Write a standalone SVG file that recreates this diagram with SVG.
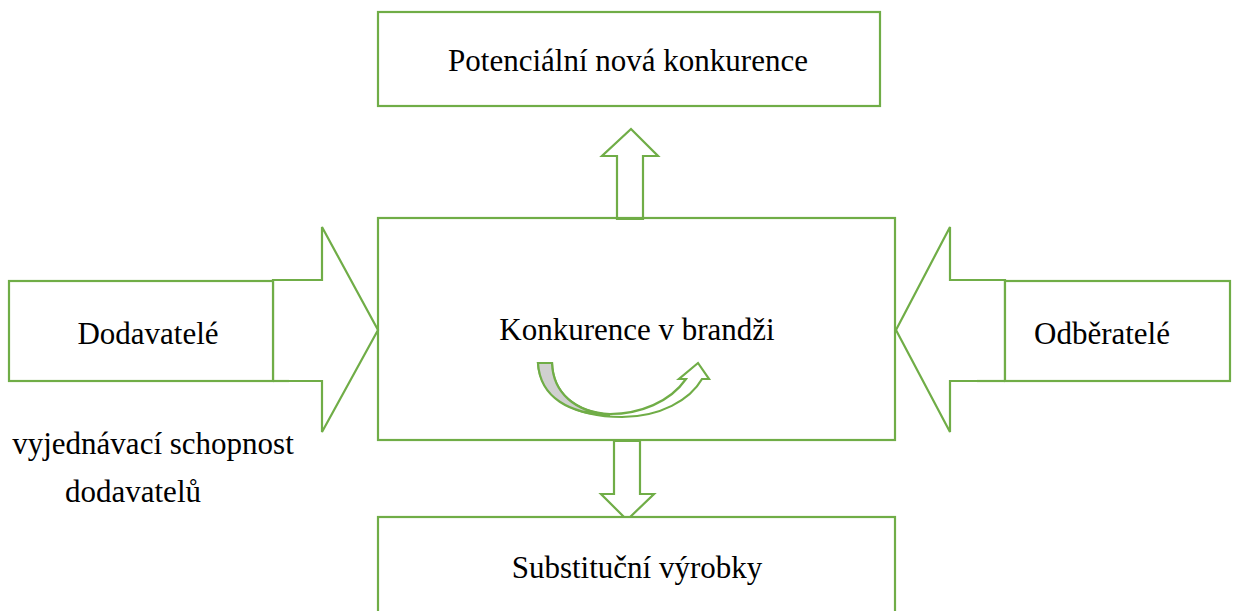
<svg xmlns="http://www.w3.org/2000/svg" width="1235" height="611" viewBox="0 0 1235 611">
<style>
.b{fill:#fff;stroke:#70AD47;stroke-width:2.2}
.t{font-family:"Liberation Serif","Times New Roman",serif;font-size:31px;fill:#000}
</style>
<rect width="1235" height="611" fill="#fff"/>
<g id="connectors">
<polygon class="b" points="617,219 617,156 602,156 631,129 658,156 643,156 643,219"/>
<polygon class="b" points="614,441 614,494 601,494 627,520 654,494 640,494 640,441"/>
<polygon class="b" points="273,280 322,280 322,227 378,330 322,432 322,381 273,381"/>
<polygon class="b" points="1005,280 950,280 950,227 896,330 950,432 950,381 1005,381"/>
</g>
<g id="center">
<rect class="b" x="378" y="218" width="517" height="222" style="fill:none"/>
<text class="t" x="637" y="340" text-anchor="middle">Konkurence v brandži</text>
<path class="b" d="M538,363 C540,398 575,417 622,417 C660,417 690,400 702,379 L709,379 L698,363 L679,379 L686,379 C670,402 640,414 610,414 C575,412 553,393 552,363 Z"/>
<path d="M538,363 L552,363 C553,393 575,412 610,415 C570,414 540,398 538,363 Z" fill="#d0d0d0" stroke="#70AD47" stroke-width="2.2"/>
</g>
<g id="top">
<rect class="b" x="378" y="12" width="502" height="94"/>
<text class="t" x="628" y="71" text-anchor="middle">Potenciální nová konkurence</text>
</g>
<g id="bottom">
<rect class="b" x="378" y="517" width="517" height="110"/>
<text class="t" x="637" y="578" text-anchor="middle">Substituční výrobky</text>
</g>
<g id="left">
<rect class="b" x="9" y="281" width="264" height="100"/>
<line x1="273" y1="381" x2="289" y2="381" stroke="#70AD47" stroke-width="2.2"/>
<text class="t" x="148" y="344" text-anchor="middle">Dodavatelé</text>
<text class="t" x="153" y="454" text-anchor="middle">vyjednávací schopnost</text>
<text class="t" x="133" y="502" text-anchor="middle">dodavatelů</text>
</g>
<g id="right">
<rect class="b" x="1005" y="281" width="225" height="100"/>
<line x1="977" y1="381" x2="1005" y2="381" stroke="#70AD47" stroke-width="2.2"/>
<text class="t" x="1102" y="344" text-anchor="middle">Odběratelé</text>
</g>
</svg>
